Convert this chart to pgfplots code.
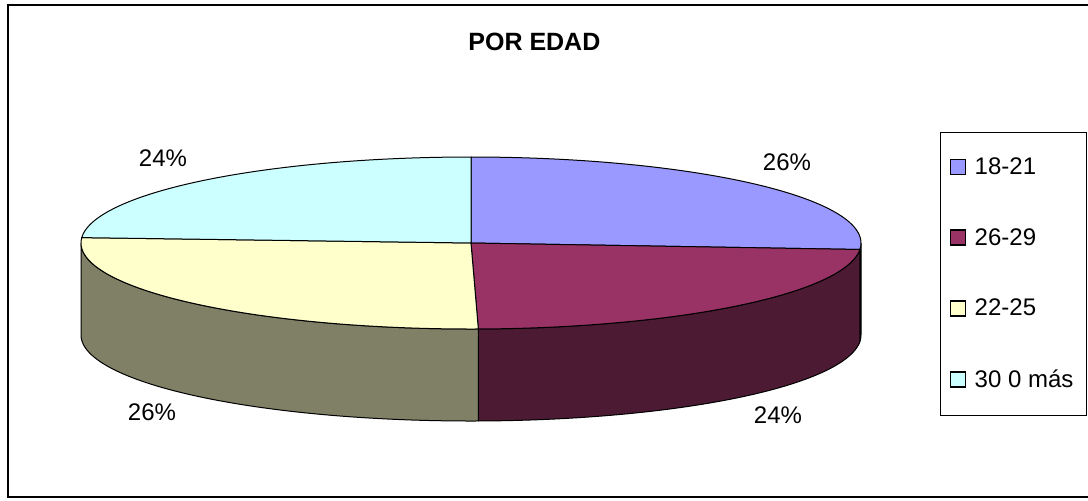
\documentclass[border=0pt]{standalone}
\usepackage{pgfplots}
\pgfplotsset{compat=1.18}
\usepackage{pgfplotstable}
\usepackage{fontspec}
\setmainfont{Liberation Sans}

\definecolor{cA}{HTML}{9999FF}
\definecolor{cAs}{HTML}{4D4D80}
\definecolor{cB}{HTML}{993366}
\definecolor{cBs}{HTML}{4C1A33}
\definecolor{cC}{HTML}{FFFFCC}
\definecolor{cCs}{HTML}{808066}
\definecolor{cD}{HTML}{CCFFFF}

\pgfplotstableread{
group value
18-21 26.2
26-29 23.5
22-25 26.3
30omas 24.0
}\piedata
\pgfplotstablegetelem{0}{value}\of\piedata \let\vA\pgfplotsretval
\pgfplotstablegetelem{1}{value}\of\piedata \let\vB\pgfplotsretval
\pgfplotstablegetelem{2}{value}\of\piedata \let\vC\pgfplotsretval
\pgfplotstablegetelem{3}{value}\of\piedata \let\vD\pgfplotsretval
\pgfmathsetmacro\aA{90-3.6*\vA}
\pgfmathsetmacro\aB{\aA-3.6*\vB}
\pgfmathsetmacro\aC{\aB-3.6*\vC}
\pgfmathsetmacro\aD{\aC-3.6*\vD}

\def\cx{471}\def\cy{243}\def\rx{390}\def\ry{86}\def\dep{92}

\newcommand\topwedge[3]{%
 \addplot[#1, domain=0:1.01, samples=102, variable=\t]
  ({\cx + ((\t>1.005) ? 0 : \rx*cos((#2)+((#3)-(#2))*min(\t,1)))},
   {\cy - ((\t>1.005) ? 0 : \ry*sin((#2)+((#3)-(#2))*min(\t,1)))}) -- cycle;}

\newcommand\sidewall[3]{%
 \addplot[#1, domain=0:2.01, samples=202, variable=\t, forget plot]
  ({\cx + \rx*cos( (\t<1.005) ? ((#2)+((#3)-(#2))*min(\t,1)) : ((#3)+((#2)-(#3))*(\t-1.01)) )},
   {\cy - \ry*sin( (\t<1.005) ? ((#2)+((#3)-(#2))*min(\t,1)) : ((#3)+((#2)-(#3))*(\t-1.01)) ) + ((\t<1.005) ? 0 : \dep)}) -- cycle;}

\begin{document}%
\begin{tikzpicture}
\useasboundingbox (0,0) rectangle (544pt,250pt);
\begin{axis}[
  at={(0,0)}, anchor=south west,
  scale only axis, width=544pt, height=250pt,
  xmin=0, xmax=1088, ymin=0, ymax=500, y dir=reverse,
  hide axis, clip=false,
  legend style={at={(axis description cs:0.864,0.736)}, anchor=north west,
    draw=black, line width=0.5pt, fill=white, inner xsep=4.5pt, inner ysep=10.5pt,
    row sep=21.5pt, font=\fontsize{12}{14}\selectfont,
    cells={anchor=west, inner sep=1pt}},
  legend image code/.code={\draw[#1, line width=0.7pt] (0pt,-3.5pt) rectangle (7.5pt,4pt); \path (10pt,0pt);},
  every axis plot/.append style={line width=0.5pt},
]
\sidewall{fill=cAs, draw=black}{0}{\aA}
\sidewall{fill=cBs, draw=black}{\aA}{\aB}
\sidewall{fill=cCs, draw=black}{\aB}{-180}
\topwedge{fill=cA, draw=black}{90}{\aA}
\addlegendentry{18-21}
\topwedge{fill=cB, draw=black}{\aA}{\aB}
\addlegendentry{26-29}
\topwedge{fill=cC, draw=black}{\aB}{\aC}
\addlegendentry{22-25}
\topwedge{fill=cD, draw=black}{\aC}{\aD}
\addlegendentry{30 0 más}
\draw[line width=1pt] (axis cs:1110,5) -- (axis cs:8,5) -- (axis cs:8,497) -- (axis cs:1110,497);
\node[font=\fontsize{12.5}{14}\selectfont\bfseries, anchor=west, inner sep=0pt] at (axis cs:468,42) {POR EDAD};
\node[font=\fontsize{12}{14}\selectfont] at (axis cs:163,158) {24\%};
\node[font=\fontsize{12}{14}\selectfont] at (axis cs:787,162) {26\%};
\node[font=\fontsize{12}{14}\selectfont] at (axis cs:152,412) {26\%};
\node[font=\fontsize{12}{14}\selectfont] at (axis cs:778,415) {24\%};
\end{axis}
\end{tikzpicture}%
\end{document}
